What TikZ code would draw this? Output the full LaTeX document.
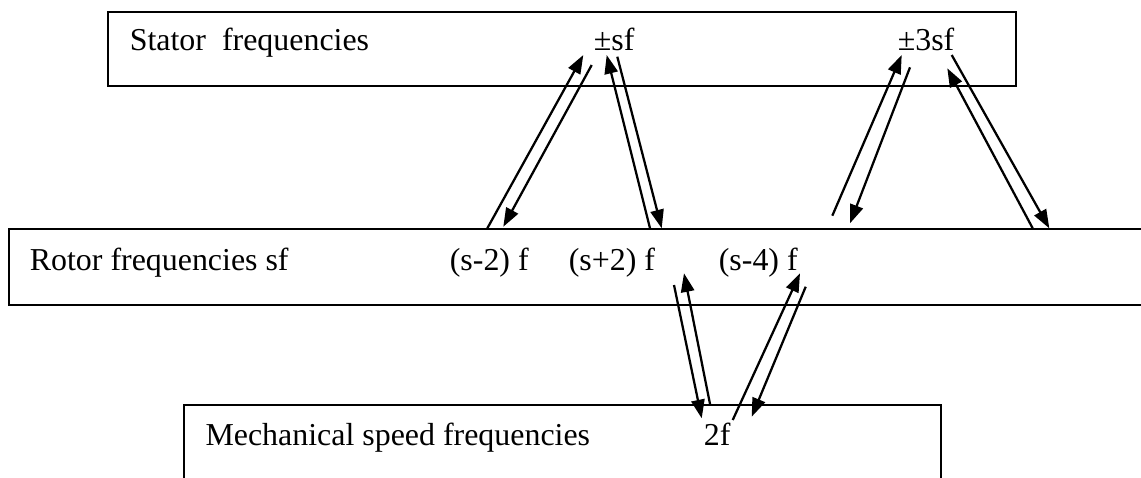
\documentclass[tikz,border=0pt]{standalone}
\usepackage{fontspec}
\setmainfont{Liberation Serif}
\usetikzlibrary{arrows.meta}

\newcommand{\px}{0.376pt}

\begin{document}
\begin{tikzpicture}[x=\px, y=-\px, every node/.style={font=\fontsize{12}{14}\selectfont},
    box/.style={draw, line width=0.75pt, inner sep=0pt},
    lbl/.style={anchor=base west, inner sep=0pt},
    flow/.style={-{Triangle[length=7pt,width=5pt]}, line width=0.85pt}]
    \useasboundingbox (0,0) rectangle (1141,477);
    % boxes
    \node[box, minimum width=907.7*\px, minimum height=74.3*\px] (stator) at (562.2,48.9) {};
    \node[inner sep=0pt, minimum width=1132*\px, minimum height=74.7*\px, anchor=west] (rotor) at (9,266.7) {};
    \draw[line width=0.75pt] (rotor.north east) -- (rotor.north west) -- (rotor.south west) -- (rotor.south east);
    \node[box, minimum width=756.7*\px, minimum height=75*\px] (mech) at (562.3,442.5) {};
    % texts
    \node[lbl] (tstat) at (129.3,50.5) {Stator\ \ frequencies};
    \node[lbl] (tsf) at (593.3,50) {±sf};
    \node[lbl] (t3sf) at (897.3,50.5) {±3sf};
    \node[lbl] (trot) at (29.3,270) {Rotor frequencies sf};
    \node[lbl] (tsm2) at (449.3,270) {(s-2) f};
    \node[lbl] (tsp2) at (568.3,270) {(s+2) f};
    \node[lbl] (tsm4) at (718.3,270) {(s-4) f};
    \node[lbl] (tmech) at (205,445) {Mechanical speed frequencies};
    \node[lbl] (t2f) at (703.3,445) {2f};
    % arrow ends
    \coordinate (a0) at (487.3,228.3); \coordinate (a1) at (583.3,55);
    \coordinate (b0) at (591.7,65);    \coordinate (b1) at (503.3,226.7);
    \coordinate (c0) at (650,228.3);   \coordinate (c1) at (606.7,55);
    \coordinate (d0) at (617.3,56.7);  \coordinate (d1) at (661.7,228.3);
    \coordinate (e0) at (832.3,215.7); \coordinate (e1) at (901.7,55);
    \coordinate (f0) at (910,67.3);    \coordinate (f1) at (850,223.3);
    \coordinate (g0) at (1032.7,228.3); \coordinate (g1) at (947.3,68.3);
    \coordinate (h0) at (951.7,55);    \coordinate (h1) at (1049.3,228.3);
    \coordinate (i0) at (710,404);     \coordinate (i1) at (684,273.3);
    \coordinate (j0) at (674,285);     \coordinate (j1) at (701.7,418.3);
    \coordinate (k0) at (732.7,420);   \coordinate (k1) at (800,273.3);
    \coordinate (l0) at (805.7,286.7); \coordinate (l1) at (751.7,416.7);
    % stator <-> rotor
    \draw[flow] (a0) -- (a1);
    \draw[flow] (b0) -- (b1);
    \draw[flow] (c0) -- (c1);
    \draw[flow] (d0) -- (d1);
    \draw[flow] (e0) -- (e1);
    \draw[flow] (f0) -- (f1);
    \draw[flow] (g0) -- (g1);
    \draw[flow] (h0) -- (h1);
    % rotor <-> mechanical
    \draw[flow] (i0) -- (i1);
    \draw[flow] (j0) -- (j1);
    \draw[flow] (k0) -- (k1);
    \draw[flow] (l0) -- (l1);
\end{tikzpicture}
\end{document}
